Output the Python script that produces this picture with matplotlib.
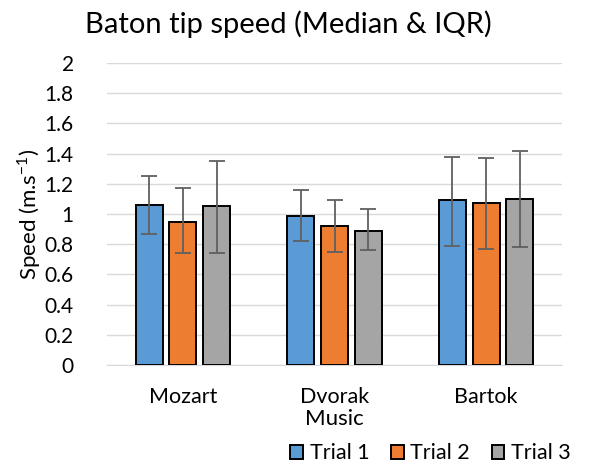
import numpy as np
import matplotlib
matplotlib.use("Agg")
import matplotlib.pyplot as plt

plt.rcParams['font.family'] = ['Lato', 'DejaVu Sans']
plt.rcParams['mathtext.fontset'] = 'custom'
plt.rcParams['mathtext.rm'] = 'Lato'

music = ["Mozart", "Dvorak", "Bartok"]
trials = ["Trial 1", "Trial 2", "Trial 3"]
# median speeds per trial, across pieces
medians = {
    "Trial 1": [1.06, 0.99, 1.09],
    "Trial 2": [0.95, 0.92, 1.07],
    "Trial 3": [1.05, 0.89, 1.10],
}
# interquartile range bounds (lower quartile, upper quartile)
q1 = {
    "Trial 1": [0.87, 0.82, 0.79],
    "Trial 2": [0.74, 0.75, 0.77],
    "Trial 3": [0.74, 0.76, 0.78],
}
q3 = {
    "Trial 1": [1.25, 1.16, 1.38],
    "Trial 2": [1.17, 1.09, 1.37],
    "Trial 3": [1.35, 1.03, 1.42],
}
colors = ["#5B9BD5", "#ED7D31", "#A5A5A5"]

fig = plt.figure(figsize=(5.9, 4.65), dpi=100)
ax = fig.add_axes([107/590, 1 - 365/465, 455/590, (365 - 63)/465])

x = np.arange(len(music))
width = 0.177
step = 0.222
for i, t in enumerate(trials):
    m = np.array(medians[t])
    lo = m - np.array(q1[t])
    hi = np.array(q3[t]) - m
    ax.bar(x + (i - 1) * step, m, width, color=colors[i], edgecolor="black",
           linewidth=1.4, label=t, zorder=3)
    ax.errorbar(x + (i - 1) * step, m, yerr=[lo, hi], fmt="none",
                ecolor="#606060", elinewidth=1.3, capsize=5.5, capthick=1.3,
                zorder=4)

ax.set_xlim(-0.5, 2.5)
ax.set_ylim(0, 2)
ax.set_yticks(np.arange(0, 2.01, 0.2))
ax.set_yticklabels(["0", "0.2", "0.4", "0.6", "0.8", "1", "1.2", "1.4", "1.6", "1.8", "2"])
ax.set_xticks(x)
ax.set_xticklabels(music)
ax.yaxis.grid(True, color="#D9D9D9", linewidth=1.0, zorder=0)
for s in ["top", "right", "left"]:
    ax.spines[s].set_visible(False)
ax.spines["bottom"].set_color("#D9D9D9")
ax.tick_params(axis="y", length=0, labelsize=15, colors="#000000", pad=24)
ax.tick_params(axis="x", length=0, labelsize=15.5, colors="#000000", pad=16)

ax.set_ylabel("Speed (m.s$^{\\mathregular{-1}}$)", fontsize=16, labelpad=1)
ax.set_xlabel("Music", fontsize=16, labelpad=1.5)
fig.suptitle("Baton tip speed (Median & IQR)", fontsize=21, x=0.488, y=0.978)

fig.legend(loc="lower right", bbox_to_anchor=(1.0, -0.038), ncol=3, frameon=False,
           fontsize=15.5, handlelength=0.6, handleheight=0.6, handletextpad=0.3,
           columnspacing=1.0)

fig.savefig("out.png", dpi=100)
